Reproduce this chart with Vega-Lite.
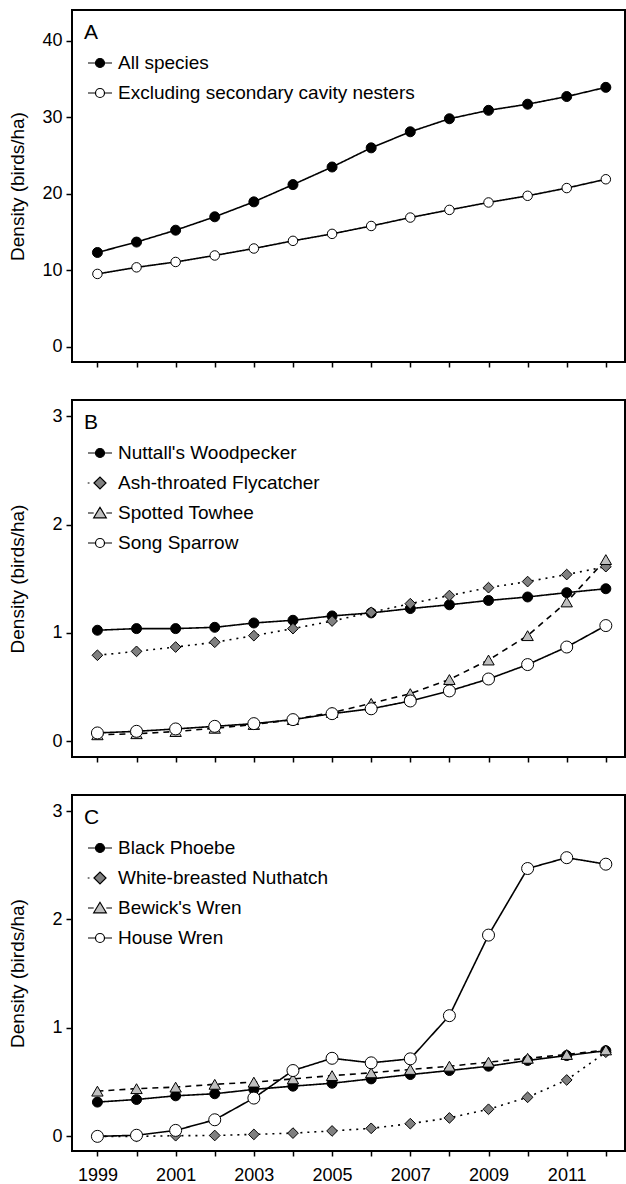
{
 "$schema": "https://vega.github.io/schema/vega-lite/v6.json",
 "padding": {"left": 7, "top": 9, "right": 0, "bottom": 5},
 "spacing": 30,
 "config": {
  "font": "Liberation Sans",
  "view": {"stroke": "black", "strokeWidth": 2},
  "axis": {"domain": false, "grid": false, "labelFont": "Liberation Sans", "labelFontSize": 18, "labelColor": "black", "labelFlush": false, "tickColor": "black", "tickWidth": 1.5, "titleFont": "Liberation Sans", "titleFontSize": 19, "titleFontWeight": "normal", "titleColor": "black"},
  "legend": {"orient": "none", "legendX": 12, "legendY": 12, "titleFont": "Liberation Sans", "titleFontSize": 21, "titleFontWeight": "normal", "titleColor": "black", "titlePadding": 4, "labelFont": "Liberation Sans", "labelFontSize": 19, "labelColor": "black", "labelOffset": 2, "labelLimit": 500, "symbolSize": 900, "symbolStrokeWidth": 1.2, "symbolStrokeColor": "black", "symbolOpacity": 1, "rowPadding": 4, "padding": 0}
 },
 "resolve": {"scale": {"y": "independent", "shape": "independent", "fill": "independent", "strokeDash": "independent", "size": "independent"}},
 "datasets": {"d": [
  {"p":"A","s":"All species","year":1999,"v":12.34},{"p":"A","s":"All species","year":2000,"v":13.7},{"p":"A","s":"All species","year":2001,"v":15.25},{"p":"A","s":"All species","year":2002,"v":17.0},{"p":"A","s":"All species","year":2003,"v":18.95},{"p":"A","s":"All species","year":2004,"v":21.2},{"p":"A","s":"All species","year":2005,"v":23.5},{"p":"A","s":"All species","year":2006,"v":26.0},{"p":"A","s":"All species","year":2007,"v":28.1},{"p":"A","s":"All species","year":2008,"v":29.8},{"p":"A","s":"All species","year":2009,"v":30.9},{"p":"A","s":"All species","year":2010,"v":31.7},{"p":"A","s":"All species","year":2011,"v":32.7},{"p":"A","s":"All species","year":2012,"v":33.9},
  {"p":"A","s":"Excluding secondary cavity nesters","year":1999,"v":9.54},{"p":"A","s":"Excluding secondary cavity nesters","year":2000,"v":10.4},{"p":"A","s":"Excluding secondary cavity nesters","year":2001,"v":11.1},{"p":"A","s":"Excluding secondary cavity nesters","year":2002,"v":11.95},{"p":"A","s":"Excluding secondary cavity nesters","year":2003,"v":12.86},{"p":"A","s":"Excluding secondary cavity nesters","year":2004,"v":13.86},{"p":"A","s":"Excluding secondary cavity nesters","year":2005,"v":14.77},{"p":"A","s":"Excluding secondary cavity nesters","year":2006,"v":15.8},{"p":"A","s":"Excluding secondary cavity nesters","year":2007,"v":16.9},{"p":"A","s":"Excluding secondary cavity nesters","year":2008,"v":17.9},{"p":"A","s":"Excluding secondary cavity nesters","year":2009,"v":18.87},{"p":"A","s":"Excluding secondary cavity nesters","year":2010,"v":19.74},{"p":"A","s":"Excluding secondary cavity nesters","year":2011,"v":20.75},{"p":"A","s":"Excluding secondary cavity nesters","year":2012,"v":21.9},
  {"p":"B","s":"Nuttall's Woodpecker","year":1999,"v":1.025},{"p":"B","s":"Nuttall's Woodpecker","year":2000,"v":1.04},{"p":"B","s":"Nuttall's Woodpecker","year":2001,"v":1.04},{"p":"B","s":"Nuttall's Woodpecker","year":2002,"v":1.052},{"p":"B","s":"Nuttall's Woodpecker","year":2003,"v":1.092},{"p":"B","s":"Nuttall's Woodpecker","year":2004,"v":1.117},{"p":"B","s":"Nuttall's Woodpecker","year":2005,"v":1.157},{"p":"B","s":"Nuttall's Woodpecker","year":2006,"v":1.185},{"p":"B","s":"Nuttall's Woodpecker","year":2007,"v":1.225},{"p":"B","s":"Nuttall's Woodpecker","year":2008,"v":1.26},{"p":"B","s":"Nuttall's Woodpecker","year":2009,"v":1.3},{"p":"B","s":"Nuttall's Woodpecker","year":2010,"v":1.332},{"p":"B","s":"Nuttall's Woodpecker","year":2011,"v":1.372},{"p":"B","s":"Nuttall's Woodpecker","year":2012,"v":1.408},
  {"p":"B","s":"Ash-throated Flycatcher","year":1999,"v":0.794},{"p":"B","s":"Ash-throated Flycatcher","year":2000,"v":0.83},{"p":"B","s":"Ash-throated Flycatcher","year":2001,"v":0.87},{"p":"B","s":"Ash-throated Flycatcher","year":2002,"v":0.914},{"p":"B","s":"Ash-throated Flycatcher","year":2003,"v":0.975},{"p":"B","s":"Ash-throated Flycatcher","year":2004,"v":1.04},{"p":"B","s":"Ash-throated Flycatcher","year":2005,"v":1.11},{"p":"B","s":"Ash-throated Flycatcher","year":2006,"v":1.19},{"p":"B","s":"Ash-throated Flycatcher","year":2007,"v":1.27},{"p":"B","s":"Ash-throated Flycatcher","year":2008,"v":1.345},{"p":"B","s":"Ash-throated Flycatcher","year":2009,"v":1.418},{"p":"B","s":"Ash-throated Flycatcher","year":2010,"v":1.474},{"p":"B","s":"Ash-throated Flycatcher","year":2011,"v":1.539},{"p":"B","s":"Ash-throated Flycatcher","year":2012,"v":1.612},
  {"p":"B","s":"Spotted Towhee","year":1999,"v":0.06},{"p":"B","s":"Spotted Towhee","year":2000,"v":0.07},{"p":"B","s":"Spotted Towhee","year":2001,"v":0.09},{"p":"B","s":"Spotted Towhee","year":2002,"v":0.12},{"p":"B","s":"Spotted Towhee","year":2003,"v":0.155},{"p":"B","s":"Spotted Towhee","year":2004,"v":0.2},{"p":"B","s":"Spotted Towhee","year":2005,"v":0.265},{"p":"B","s":"Spotted Towhee","year":2006,"v":0.35},{"p":"B","s":"Spotted Towhee","year":2007,"v":0.44},{"p":"B","s":"Spotted Towhee","year":2008,"v":0.57},{"p":"B","s":"Spotted Towhee","year":2009,"v":0.75},{"p":"B","s":"Spotted Towhee","year":2010,"v":0.975},{"p":"B","s":"Spotted Towhee","year":2011,"v":1.286},{"p":"B","s":"Spotted Towhee","year":2012,"v":1.677},
  {"p":"B","s":"Song Sparrow","year":1999,"v":0.077},{"p":"B","s":"Song Sparrow","year":2000,"v":0.092},{"p":"B","s":"Song Sparrow","year":2001,"v":0.114},{"p":"B","s":"Song Sparrow","year":2002,"v":0.138},{"p":"B","s":"Song Sparrow","year":2003,"v":0.163},{"p":"B","s":"Song Sparrow","year":2004,"v":0.2},{"p":"B","s":"Song Sparrow","year":2005,"v":0.255},{"p":"B","s":"Song Sparrow","year":2006,"v":0.3},{"p":"B","s":"Song Sparrow","year":2007,"v":0.372},{"p":"B","s":"Song Sparrow","year":2008,"v":0.465},{"p":"B","s":"Song Sparrow","year":2009,"v":0.575},{"p":"B","s":"Song Sparrow","year":2010,"v":0.708},{"p":"B","s":"Song Sparrow","year":2011,"v":0.87},{"p":"B","s":"Song Sparrow","year":2012,"v":1.068},
  {"p":"C","s":"Black Phoebe","year":1999,"v":0.316},{"p":"C","s":"Black Phoebe","year":2000,"v":0.34},{"p":"C","s":"Black Phoebe","year":2001,"v":0.374},{"p":"C","s":"Black Phoebe","year":2002,"v":0.393},{"p":"C","s":"Black Phoebe","year":2003,"v":0.433},{"p":"C","s":"Black Phoebe","year":2004,"v":0.463},{"p":"C","s":"Black Phoebe","year":2005,"v":0.49},{"p":"C","s":"Black Phoebe","year":2006,"v":0.53},{"p":"C","s":"Black Phoebe","year":2007,"v":0.57},{"p":"C","s":"Black Phoebe","year":2008,"v":0.607},{"p":"C","s":"Black Phoebe","year":2009,"v":0.647},{"p":"C","s":"Black Phoebe","year":2010,"v":0.7},{"p":"C","s":"Black Phoebe","year":2011,"v":0.745},{"p":"C","s":"Black Phoebe","year":2012,"v":0.79},
  {"p":"C","s":"White-breasted Nuthatch","year":1999,"v":0.0},{"p":"C","s":"White-breasted Nuthatch","year":2000,"v":0.0},{"p":"C","s":"White-breasted Nuthatch","year":2001,"v":0.006},{"p":"C","s":"White-breasted Nuthatch","year":2002,"v":0.008},{"p":"C","s":"White-breasted Nuthatch","year":2003,"v":0.018},{"p":"C","s":"White-breasted Nuthatch","year":2004,"v":0.03},{"p":"C","s":"White-breasted Nuthatch","year":2005,"v":0.05},{"p":"C","s":"White-breasted Nuthatch","year":2006,"v":0.074},{"p":"C","s":"White-breasted Nuthatch","year":2007,"v":0.117},{"p":"C","s":"White-breasted Nuthatch","year":2008,"v":0.17},{"p":"C","s":"White-breasted Nuthatch","year":2009,"v":0.25},{"p":"C","s":"White-breasted Nuthatch","year":2010,"v":0.36},{"p":"C","s":"White-breasted Nuthatch","year":2011,"v":0.52},{"p":"C","s":"White-breasted Nuthatch","year":2012,"v":0.776},
  {"p":"C","s":"Bewick's Wren","year":1999,"v":0.417},{"p":"C","s":"Bewick's Wren","year":2000,"v":0.44},{"p":"C","s":"Bewick's Wren","year":2001,"v":0.454},{"p":"C","s":"Bewick's Wren","year":2002,"v":0.48},{"p":"C","s":"Bewick's Wren","year":2003,"v":0.5},{"p":"C","s":"Bewick's Wren","year":2004,"v":0.53},{"p":"C","s":"Bewick's Wren","year":2005,"v":0.56},{"p":"C","s":"Bewick's Wren","year":2006,"v":0.586},{"p":"C","s":"Bewick's Wren","year":2007,"v":0.617},{"p":"C","s":"Bewick's Wren","year":2008,"v":0.647},{"p":"C","s":"Bewick's Wren","year":2009,"v":0.684},{"p":"C","s":"Bewick's Wren","year":2010,"v":0.72},{"p":"C","s":"Bewick's Wren","year":2011,"v":0.755},{"p":"C","s":"Bewick's Wren","year":2012,"v":0.797},
  {"p":"C","s":"House Wren","year":1999,"v":0.0},{"p":"C","s":"House Wren","year":2000,"v":0.01},{"p":"C","s":"House Wren","year":2001,"v":0.055},{"p":"C","s":"House Wren","year":2002,"v":0.153},{"p":"C","s":"House Wren","year":2003,"v":0.353},{"p":"C","s":"House Wren","year":2004,"v":0.607},{"p":"C","s":"House Wren","year":2005,"v":0.72},{"p":"C","s":"House Wren","year":2006,"v":0.678},{"p":"C","s":"House Wren","year":2007,"v":0.715},{"p":"C","s":"House Wren","year":2008,"v":1.113},{"p":"C","s":"House Wren","year":2009,"v":1.856},{"p":"C","s":"House Wren","year":2010,"v":2.47},{"p":"C","s":"House Wren","year":2011,"v":2.57},{"p":"C","s":"House Wren","year":2012,"v":2.51}
 ]},
 "vconcat": [
  {
   "width": 553, "height": 352,
   "data": {"name": "d"},
   "transform": [{"filter": "datum.p === 'A'"}],
   "encoding": {
    "x": {"field": "year", "type": "quantitative", "scale": {"domain": [1998.35, 2012.49], "nice": false, "zero": false}, "axis": {"title": null, "values": [1999,2000,2001,2002,2003,2004,2005,2006,2007,2008,2009,2010,2011,2012], "labels": false, "tickSize": 5}},
    "y": {"field": "v", "type": "quantitative", "scale": {"domain": [-1.96, 44.0], "nice": false, "zero": false}, "axis": {"title": "Density (birds/ha)", "values": [0,10,20,30,40], "tickSize": 6, "labelPadding": 4, "titleX": -45}}
   },
   "layer": [
    {"mark": {"type": "line", "stroke": "black", "strokeWidth": 1.6},
     "encoding": {"strokeDash": {"field": "s", "scale": {"domain": ["All species", "Excluding secondary cavity nesters"], "range": [[1,0],[1,0]]}, "legend": null}}},
    {"mark": {"type": "point", "filled": true, "stroke": "black", "strokeWidth": 1, "opacity": 1},
     "encoding": {
      "shape": {"field": "s", "scale": {"domain": ["All species", "Excluding secondary cavity nesters"], "range": ["circle", "circle"]}, "legend": null},
      "fill": {"field": "s", "scale": {"domain": ["All species", "Excluding secondary cavity nesters"], "range": ["black", "white"]}, "legend": null},
      "size": {"field": "s", "scale": {"domain": ["All species", "Excluding secondary cavity nesters"], "range": [100, 90]}, "legend": null}}},
    {"transform": [{"filter": "false"}],
     "mark": {"type": "point", "filled": true, "stroke": "black", "strokeWidth": 1.2, "opacity": 1},
     "encoding": {
      "shape": {"field": "s", "scale": {"domain": ["All species", "Excluding secondary cavity nesters"], "range": ["M-0.8,0L-0.3,0M0.3,0L0.8,0M0.3,0A0.3,0.3,0,1,1,-0.3,0A0.3,0.3,0,1,1,0.3,0Z", "M-0.8,0L-0.3,0M0.3,0L0.8,0M0.3,0A0.3,0.3,0,1,1,-0.3,0A0.3,0.3,0,1,1,0.3,0Z"]}, "legend": {"title": "A", "encode": {"symbols": {"update": {"stroke": {"value": "black"}, "strokeWidth": {"value": 1.2}}}}}},
      "fill": {"field": "s", "scale": {"domain": ["All species", "Excluding secondary cavity nesters"], "range": ["black", "white"]}, "legend": {"title": "A", "encode": {"symbols": {"update": {"stroke": {"value": "black"}, "strokeWidth": {"value": 1.2}}}}}}}}
   ],
   "resolve": {"scale": {"shape": "independent", "fill": "independent"}}
  },
  {
   "width": 553, "height": 357,
   "data": {"name": "d"},
   "transform": [{"filter": "datum.p === 'B'"}],
   "encoding": {
    "x": {"field": "year", "type": "quantitative", "scale": {"domain": [1998.35, 2012.49], "nice": false, "zero": false}, "axis": {"title": null, "values": [1999,2000,2001,2002,2003,2004,2005,2006,2007,2008,2009,2010,2011,2012], "labels": false, "tickSize": 5}},
    "y": {"field": "v", "type": "quantitative", "scale": {"domain": [-0.145, 3.15], "nice": false, "zero": false}, "axis": {"title": "Density (birds/ha)", "values": [0,1,2,3], "tickSize": 6, "labelPadding": 4, "titleX": -45}}
   },
   "layer": [
    {"mark": {"type": "line", "stroke": "black", "strokeWidth": 1.6},
     "encoding": {"strokeDash": {"field": "s", "scale": {"domain": ["Nuttall's Woodpecker", "Ash-throated Flycatcher", "Spotted Towhee", "Song Sparrow"], "range": [[1,0],[2,5],[6,5],[1,0]]}, "legend": null}}},
    {"mark": {"type": "point", "filled": true, "stroke": "black", "strokeWidth": 1, "opacity": 1},
     "encoding": {
      "shape": {"field": "s", "scale": {"domain": ["Nuttall's Woodpecker", "Ash-throated Flycatcher", "Spotted Towhee", "Song Sparrow"], "range": ["circle", "diamond", "triangle-up", "circle"]}, "legend": null},
      "fill": {"field": "s", "scale": {"domain": ["Nuttall's Woodpecker", "Ash-throated Flycatcher", "Spotted Towhee", "Song Sparrow"], "range": ["black", "#808080", "#bfbfbf", "white"]}, "legend": null},
      "size": {"field": "s", "scale": {"domain": ["Nuttall's Woodpecker", "Ash-throated Flycatcher", "Spotted Towhee", "Song Sparrow"], "range": [100, 144, 121, 90]}, "legend": null}}},
    {"transform": [{"filter": "false"}],
     "mark": {"type": "point", "filled": true, "stroke": "black", "strokeWidth": 1.2, "opacity": 1},
     "encoding": {
      "shape": {"field": "s", "scale": {"domain": ["Nuttall's Woodpecker", "Ash-throated Flycatcher", "Spotted Towhee", "Song Sparrow"], "range": ["M-0.8,0L-0.3,0M0.3,0L0.8,0M0.3,0A0.3,0.3,0,1,1,-0.3,0A0.3,0.3,0,1,1,0.3,0Z", "M-0.82,0L-0.7,0M-0.4,0L0,-0.4L0.4,0L0,0.4Z", "M-0.8,0L-0.42,0M0.42,0L0.8,0M0,-0.38L-0.42,0.32L0.42,0.32Z", "M-0.8,0L-0.3,0M0.3,0L0.8,0M0.3,0A0.3,0.3,0,1,1,-0.3,0A0.3,0.3,0,1,1,0.3,0Z"]}, "legend": {"title": "B", "encode": {"symbols": {"update": {"stroke": {"value": "black"}, "strokeWidth": {"value": 1.2}}}}}},
      "fill": {"field": "s", "scale": {"domain": ["Nuttall's Woodpecker", "Ash-throated Flycatcher", "Spotted Towhee", "Song Sparrow"], "range": ["black", "#808080", "#bfbfbf", "white"]}, "legend": {"title": "B", "encode": {"symbols": {"update": {"stroke": {"value": "black"}, "strokeWidth": {"value": 1.2}}}}}}}}
   ],
   "resolve": {"scale": {"shape": "independent", "fill": "independent"}}
  },
  {
   "width": 553, "height": 356,
   "data": {"name": "d"},
   "transform": [{"filter": "datum.p === 'C'"}],
   "encoding": {
    "x": {"field": "year", "type": "quantitative", "scale": {"domain": [1998.35, 2012.49], "nice": false, "zero": false}, "axis": {"title": null, "values": [1999,2000,2001,2002,2003,2004,2005,2006,2007,2008,2009,2010,2011,2012], "format": "d", "labelExpr": "datum.value % 2 === 1 ? datum.label : ''", "labelOverlap": false, "tickSize": 5, "labelPadding": 10}},
    "y": {"field": "v", "type": "quantitative", "scale": {"domain": [-0.135, 3.148], "nice": false, "zero": false}, "axis": {"title": "Density (birds/ha)", "values": [0,1,2,3], "tickSize": 6, "labelPadding": 4, "titleX": -45}}
   },
   "layer": [
    {"mark": {"type": "line", "stroke": "black", "strokeWidth": 1.6},
     "encoding": {"strokeDash": {"field": "s", "scale": {"domain": ["Black Phoebe", "White-breasted Nuthatch", "Bewick's Wren", "House Wren"], "range": [[1,0],[2,5],[6,5],[1,0]]}, "legend": null}}},
    {"mark": {"type": "point", "filled": true, "stroke": "black", "strokeWidth": 1, "opacity": 1},
     "encoding": {
      "shape": {"field": "s", "scale": {"domain": ["Black Phoebe", "White-breasted Nuthatch", "Bewick's Wren", "House Wren"], "range": ["circle", "diamond", "triangle-up", "circle"]}, "legend": null},
      "fill": {"field": "s", "scale": {"domain": ["Black Phoebe", "White-breasted Nuthatch", "Bewick's Wren", "House Wren"], "range": ["black", "#808080", "#bfbfbf", "white"]}, "legend": null},
      "size": {"field": "s", "scale": {"domain": ["Black Phoebe", "White-breasted Nuthatch", "Bewick's Wren", "House Wren"], "range": [100, 144, 121, 90]}, "legend": null}}},
    {"transform": [{"filter": "false"}],
     "mark": {"type": "point", "filled": true, "stroke": "black", "strokeWidth": 1.2, "opacity": 1},
     "encoding": {
      "shape": {"field": "s", "scale": {"domain": ["Black Phoebe", "White-breasted Nuthatch", "Bewick's Wren", "House Wren"], "range": ["M-0.8,0L-0.3,0M0.3,0L0.8,0M0.3,0A0.3,0.3,0,1,1,-0.3,0A0.3,0.3,0,1,1,0.3,0Z", "M-0.82,0L-0.7,0M-0.4,0L0,-0.4L0.4,0L0,0.4Z", "M-0.8,0L-0.42,0M0.42,0L0.8,0M0,-0.38L-0.42,0.32L0.42,0.32Z", "M-0.8,0L-0.3,0M0.3,0L0.8,0M0.3,0A0.3,0.3,0,1,1,-0.3,0A0.3,0.3,0,1,1,0.3,0Z"]}, "legend": {"title": "C", "encode": {"symbols": {"update": {"stroke": {"value": "black"}, "strokeWidth": {"value": 1.2}}}}}},
      "fill": {"field": "s", "scale": {"domain": ["Black Phoebe", "White-breasted Nuthatch", "Bewick's Wren", "House Wren"], "range": ["black", "#808080", "#bfbfbf", "white"]}, "legend": {"title": "C", "encode": {"symbols": {"update": {"stroke": {"value": "black"}, "strokeWidth": {"value": 1.2}}}}}}}}
   ],
   "resolve": {"scale": {"shape": "independent", "fill": "independent"}}
  }
 ]
}
